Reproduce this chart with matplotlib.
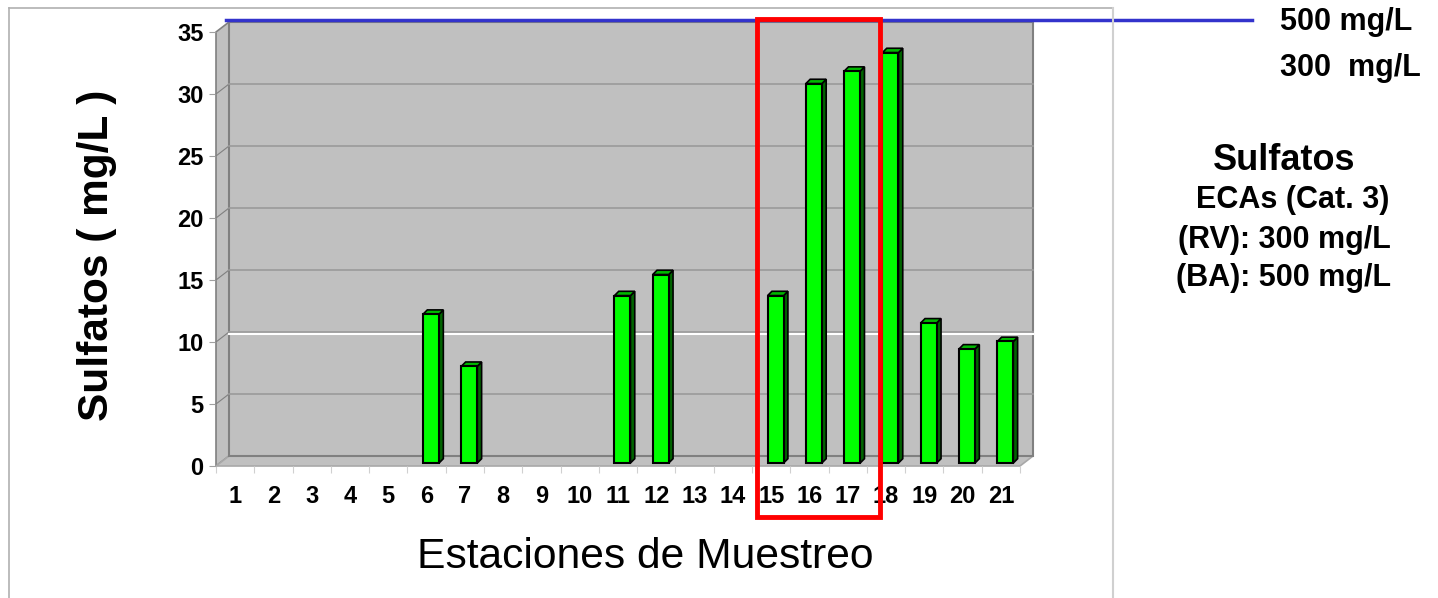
import matplotlib.pyplot as plt
from matplotlib.patches import Polygon, Rectangle
from matplotlib.lines import Line2D

# sulphate concentration per sampling station (mg/L)
stations = list(range(1, 22))
sulfatos = [0, 0, 0, 0, 0, 12.0, 7.8, 0, 0, 0, 13.5, 15.2, 0, 0,
            13.5, 30.6, 31.6, 33.1, 11.3, 9.2, 9.8]
y_ticks = [0, 5, 10, 15, 20, 25, 30, 35]
highlight = (15, 17)  # stations framed in red
limit_labels = ["500 mg/L", "300  mg/L"]
eca_lines = ["ECAs (Cat. 3)", "(RV): 300 mg/L", "(BA): 500 mg/L"]

FONT = "Liberation Sans"
W, H = 1438, 598
fig = plt.figure(figsize=(W / 100, H / 100), dpi=100)
fig.patch.set_facecolor("white")

# front plane of the pseudo-3D chart, in pixels
x0, x1, y0, y1 = 216, 1020, 466, 32
ax = fig.add_axes([x0 / W, 1 - y0 / H, (x1 - x0) / W, (y0 - y1) / H])
xmin, xmax, ymax = 0.5, 21.5, 35
ax.set_xlim(xmin, xmax)
ax.set_ylim(0, ymax)
for s in ax.spines.values():
    s.set_visible(False)
ax.patch.set_visible(False)

px_x = (xmax - xmin) / (x1 - x0)
px_y = ymax / (y0 - y1)
dx, dy = 13 * px_x, 10 * px_y  # wall depth

wall = "#c0c0c0"
edge = "#808080"
# left wall, floor, back wall
ax.add_patch(Polygon([(xmin, 0), (xmin + dx, dy), (xmin + dx, ymax + dy), (xmin, ymax)],
                     closed=True, fc=wall, ec=edge, lw=1.2, clip_on=False, zorder=1))
ax.add_patch(Polygon([(xmin, 0), (xmax, 0), (xmax + dx, dy), (xmin + dx, dy)],
                     closed=True, fc=wall, ec="#a8a8a8", lw=1.2, clip_on=False, zorder=1))
ax.add_patch(Rectangle((xmin + dx, dy), xmax - xmin, ymax, fc=wall, ec=edge,
                       lw=1.5, clip_on=False, zorder=1))
for v in y_ticks[1:-1]:
    ax.add_line(Line2D([xmin, xmin + dx], [v, v + dy], color=edge, lw=0.8, zorder=2, clip_on=False))
    ax.add_line(Line2D([xmin + dx, xmax + dx], [v + dy, v + dy], color="#9a9a9a", lw=1.2,
                       zorder=2, clip_on=False))
# white line just under the 10 gridline
ax.add_line(Line2D([xmin + dx, xmax + dx], [10 + dy - 2.2 * px_y] * 2, color="white", lw=1.5,
                   zorder=2, clip_on=False))

# bars: front face, side and top
off, bw = 15.6 * px_x, 16 * px_x
b0 = 3 * px_y
bdx, bdy = 4.3 * px_x, 4.3 * px_y
for st, v in zip(stations, sulfatos):
    if v <= 0:
        continue
    left = st - 0.5 + off
    ax.bar(left, v, width=bw, bottom=b0, align="edge", color="#00ff00",
           edgecolor="black", linewidth=1.5, zorder=4)
    top = b0 + v
    ax.add_patch(Polygon([(left + bw, b0), (left + bw + bdx, b0 + bdy),
                          (left + bw + bdx, top + bdy), (left + bw, top)],
                         closed=True, fc="#006400", ec="black", lw=1.2, zorder=3))
    ax.add_patch(Polygon([(left, top), (left + bdx, top + bdy),
                          (left + bw + bdx, top + bdy), (left + bw, top)],
                         closed=True, fc="#00b800", ec="black", lw=1.2, zorder=3))

# axes ticks and labels
ax.set_yticks(y_ticks)
ax.set_yticklabels([str(t) for t in y_ticks], fontfamily=FONT, fontweight="bold", fontsize=17)
ax.tick_params(axis="y", length=5, width=0.8, color="#a0a0a0", pad=4)
ax.set_xticks(stations)
ax.set_xticklabels([str(s) for s in stations], fontfamily=FONT, fontweight="bold", fontsize=17)
ax.set_xticks([s + 0.5 for s in [0] + stations], minor=True)
ax.tick_params(axis="x", which="major", length=0, pad=14)
ax.tick_params(axis="x", which="minor", length=5, width=0.8, color="#d0d0d0")

# off-scale reference line (500 mg/L)
ax.add_line(Line2D([0.012, 1.289], [1.0276, 1.0276], transform=ax.transAxes,
                   color="#3333cc", lw=2.5, clip_on=False, zorder=6))

# red frame around the highlighted stations
ra, rb = highlight
ax.add_patch(Rectangle((ra - 0.37, -4.1), (rb - ra) + 1.21, 40.15, fill=False,
                       ec="#ff0000", lw=3.5, clip_on=False, zorder=7))

# outer chart frame
fig.add_artist(Line2D([9 / W, 1113 / W], [1 - 8 / H] * 2, transform=fig.transFigure,
                      color="#b0b0b0", lw=1.2))
fig.add_artist(Line2D([9 / W, 9 / W], [0, 1 - 8 / H], transform=fig.transFigure,
                      color="#b0b0b0", lw=1.2))
fig.add_artist(Line2D([1113 / W, 1113 / W], [0, 1 - 8 / H], transform=fig.transFigure,
                      color="#d0d0d0", lw=1.5))

fig.text(97 / W, 1 - 255 / H, "Sulfatos ( mg/L )", rotation=90, ha="center", va="center",
         fontfamily=FONT, fontweight="bold", fontsize=30.5)
fig.text(645 / W, 1 - 557 / H, "Estaciones de Muestreo", ha="center", va="center",
         fontfamily=FONT, fontsize=30.7)

# side notes
for lbl, yp in zip(limit_labels, [22, 68]):
    fig.text(1280 / W, 1 - yp / H, lbl, ha="left", va="center", fontfamily=FONT,
             fontweight="bold", fontsize=22)
fig.text(1284 / W, 1 - 160 / H, "Sulfatos", ha="center", va="center", fontfamily=FONT,
         fontweight="bold", fontsize=26)
for lbl, xp, yp in zip(eca_lines, [1293, 1284, 1284], [200, 240, 278]):
    fig.text(xp / W, 1 - yp / H, lbl, ha="center", va="center", fontfamily=FONT,
             fontweight="bold", fontsize=22)

fig.savefig("out.png", dpi=100, facecolor="white")
